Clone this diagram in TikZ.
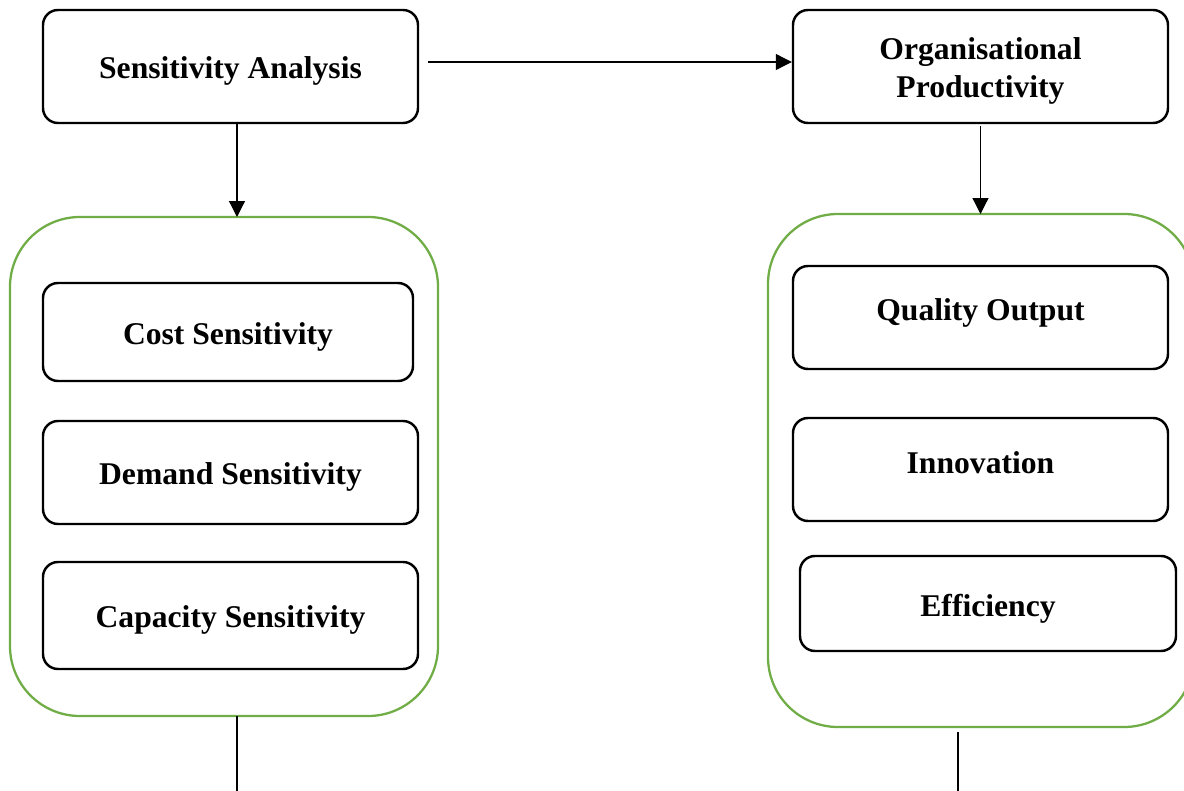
\documentclass[tikz,border=0pt]{standalone}
\usepackage{fontspec}
\setmainfont{Liberation Serif}
\usetikzlibrary{positioning,arrows.meta}
\definecolor{boxgreen}{HTML}{70AD47}
\newcommand{\boxtext}[2][-2.5pt]{\raisebox{#1}[\height][\depth]{\begin{tabular}{@{}c@{}}#2\end{tabular}}}

\begin{document}
\begin{tikzpicture}[
                x=0.02cm,y=-0.02cm,
                item/.style n args={2}{draw,line width=1.4pt,rounded corners=0.3cm,minimum width=#1*0.02cm,minimum height=#2*0.02cm,align=center,font=\fontsize{18}{22}\selectfont\bfseries},
                group/.style={draw=boxgreen,line width=1.3pt,rounded corners=1.4cm},
                link/.style={line width=0.7pt,-{Triangle[length=9pt,width=9pt]}}
            ]
                \useasboundingbox (0,0) rectangle (1184,791);
                % top row
                \node (sa) [item={375}{113}] at (230.5,66.5) {\boxtext{Sensitivity Analysis}};
                \node (op) [item={375}{113}] at (980.5,66.5) {\boxtext{Organisational\\Productivity}};
                % green groups
                \draw[group] (10,217) rectangle (438,716);
                \draw[group] (768,214) rectangle (1194,727);
                \coordinate (g1top) at (237,217);
                \coordinate (g2top) at (980.5,214);
                \coordinate (g1bot) at (237,716);
                \coordinate (g2bot) at (958,732);
                \coordinate (e1) at (237,791);
                \coordinate (e2) at (958,791);
                % left group
                \node (cost) [item={370}{98}] at (228,332) {\boxtext{Cost Sensitivity}};
                \node (dem) [item={375}{103}] at (230.5,472.5) {\boxtext{Demand Sensitivity}};
                \node (cap) [item={375}{107}] at (230.5,615.5) {\boxtext{Capacity Sensitivity}};
                % right group
                \node (qual) [item={375}{103}] at (980.5,317.5) {\boxtext[2.8pt]{Quality Output}};
                \node (inno) [item={375}{103}] at (980.5,469.5) {\boxtext[2.3pt]{Innovation}};
                \node (eff) [item={376}{95}] at (988,603.5) {\boxtext[-2.8pt]{Efficiency}};
                % connectors
                \draw[link] ([xshift=5pt]sa.east|-0,62) -- (op.west|-0,62);
                \draw[link] (sa.south-|g1top) -- (g1top);
                \draw[link] ([yshift=-1pt]op.south) -- (g2top);
                \draw[line width=0.7pt] (g1bot) -- (e1);
                \draw[line width=0.7pt] (g2bot) -- (e2);
            \end{tikzpicture}
\end{document}
